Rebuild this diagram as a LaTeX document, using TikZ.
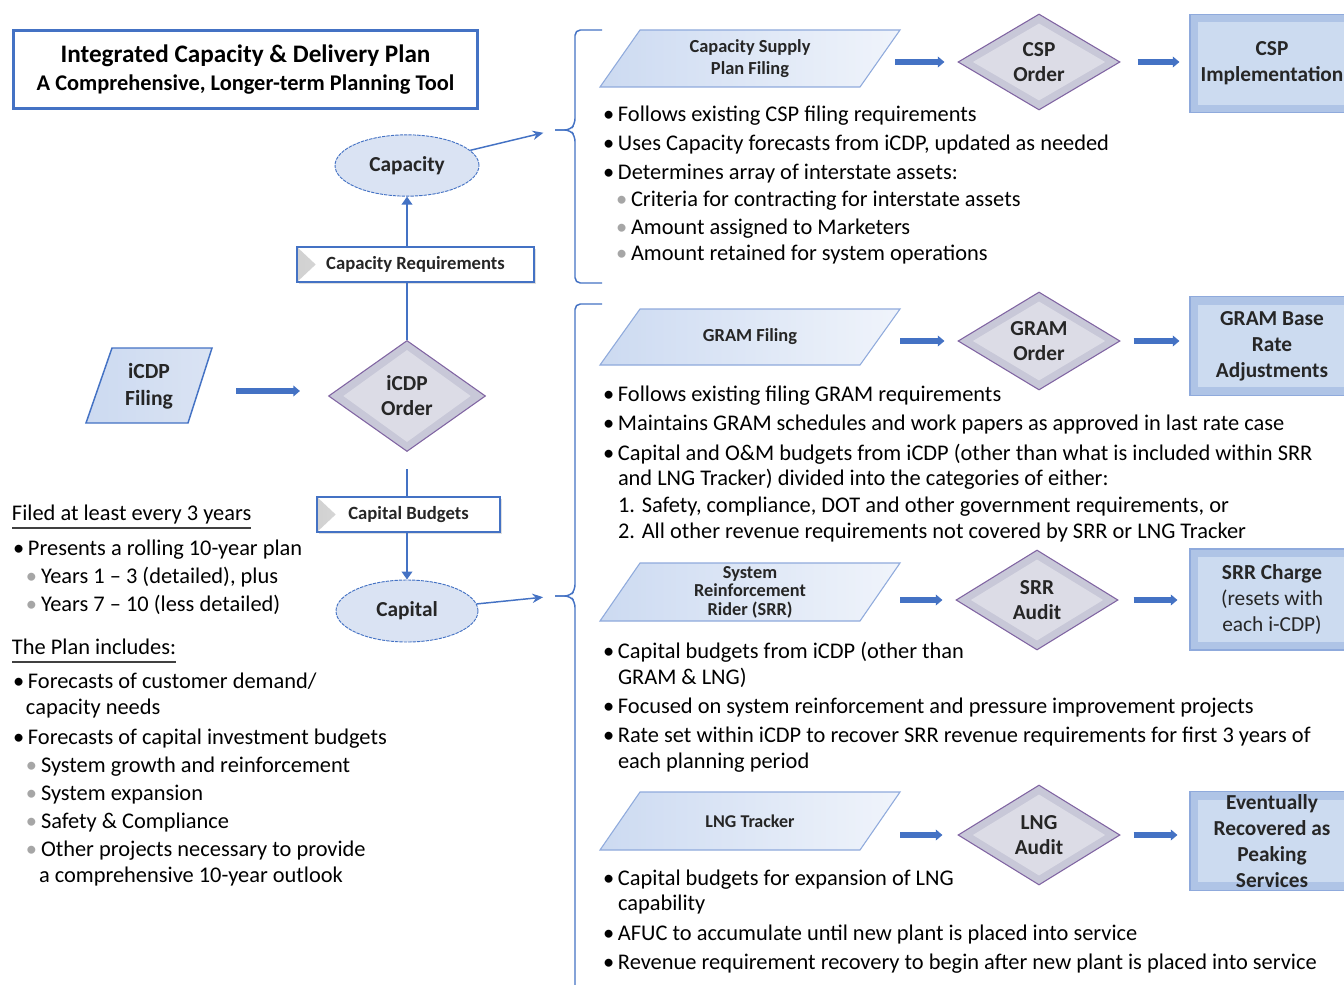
\documentclass[tikz,border=0pt]{standalone}
\usepackage{fontspec}
\setmainfont{Carlito}
\usetikzlibrary{shapes.geometric,arrows.meta,calc,shadows}
\definecolor{mblue}{HTML}{4472C4}
\definecolor{lblue}{HTML}{DAE3F3}
\definecolor{pgborder}{HTML}{8FAADC}
\definecolor{pgleft}{HTML}{CCDAF1}
\definecolor{pgright}{HTML}{F0F4FB}
\definecolor{diaborder}{HTML}{8064A2}
\definecolor{diaouter}{HTML}{C8C8D8}
\definecolor{diainner}{HTML}{DCDCE6}
\definecolor{boxouter}{HTML}{AFC4E6}
\definecolor{boxinner}{HTML}{CCDBF0}
\definecolor{boxborder}{HTML}{8FAADC}
\definecolor{subgray}{HTML}{A6A6A6}
\definecolor{shapetext}{HTML}{262626}
\definecolor{ulgray}{HTML}{404040}

\newcommand\bu{\makebox[11.25pt][l]{\textbullet}}
\newcommand\sbu{\makebox[11.25pt][l]{\textcolor{subgray}{\textbullet}}}

\tikzset{
  txt/.style={inner sep=0pt, outer sep=0pt, anchor=base west, font=\fontsize{16.8pt}{20pt}\selectfont},
  titlebox/.style={draw=mblue, line width=2.3pt, fill=white, minimum width=348pt, minimum height=58.5pt, align=center, inner sep=0pt},
  ell/.style={ellipse, draw=mblue, line width=0.7pt, dash pattern=on 2.5pt off 0.8pt, fill=lblue, minimum width=108pt, minimum height=46pt, inner sep=0pt, font=\fontsize{16pt}{19pt}\selectfont\bfseries, text=shapetext},
  lbl/.style={rectangle, draw=mblue, line width=1pt, fill=white, minimum height=26.25pt, inner sep=0pt, font=\fontsize{14pt}{16pt}\selectfont\bfseries, text=shapetext, drop shadow={opacity=0.25, shadow xshift=1.2pt, shadow yshift=-1.2pt}, path picture={\shade[left color=black!18, right color=white] (path picture bounding box.south west) -- ([xshift=14pt]path picture bounding box.west) -- (path picture bounding box.north west) -- cycle;}},
  dia/.style={diamond, draw=diaborder, line width=0.8pt, fill=diaouter, inner sep=0pt, align=center, font=\fontsize{16pt}{18.75pt}\selectfont\bfseries, text=shapetext, path picture={\fill[diainner] ([yshift=-7pt]path picture bounding box.north) -- ([xshift=-11pt]path picture bounding box.east) -- ([yshift=7pt]path picture bounding box.south) -- ([xshift=11pt]path picture bounding box.west) -- cycle;}},
  box/.style={rectangle, draw=boxborder, line width=0.8pt, fill=boxouter, minimum width=123pt, minimum height=74pt, inner sep=0pt, align=center, font=\fontsize{16pt}{19.5pt}\selectfont\bfseries, text=shapetext, path picture={\fill[boxinner] ([shift={(6pt,6pt)}]path picture bounding box.south west) rectangle ([shift={(-6pt,-6pt)}]path picture bounding box.north east);}},
  pgfill/.style={left color=pgleft, right color=pgright, draw=pgborder, line width=0.8pt},
  icdpfill/.style={left color=pgleft, right color=lblue, draw=mblue, line width=1.1pt},
  pgt/.style={rectangle, inner sep=0pt, minimum width=195pt, minimum height=30pt, align=center, font=\fontsize{13.8pt}{16.5pt}\selectfont\bfseries, text=shapetext},
  bigarrow/.style={mblue, line width=4pt, -{Triangle[length=5pt,width=8pt]}},
  thin/.style={mblue, line width=1.2pt},
  thinarrow/.style={mblue, line width=1.2pt, -{Triangle[length=6pt,width=8pt]}},
  ptr/.style={mblue, line width=1.1pt, -{Stealth[length=8pt,width=7pt]}},
  bracket/.style={mblue, line width=1.1pt, rounded corners=4pt},
  uline/.style={ulgray, line width=0.9pt}
}

\newcommand\pgram[6]{%
  \path[pgfill] ({#2-150},{#3+#4}) -- ({#2-110},{#3-#4}) -- ({#2+150},{#3-#4}) -- ({#2+110},{#3+#4}) -- cycle;
  \node[pgt,#6] (#1) at (#2,#3) {#5};}

\begin{document}
\begin{tikzpicture}[x=0.75pt,y=-0.75pt]
\useasboundingbox (0,0) rectangle (1344,984);
\clip (0,0) rectangle (1344,984);
\fill[white] (0,0) rectangle (1344,984);

% ---------- title ----------
\node[titlebox] (title) at (245.5,69.5) {{\fontsize{18.9pt}{22pt}\selectfont\bfseries Integrated Capacity \& Delivery Plan}\\[4.5pt]{\fontsize{16.8pt}{20pt}\selectfont\bfseries A Comprehensive, Longer-term Planning Tool}};

% ---------- left flow ----------
\node[ell] (cap) at (407,165.5) {Capacity};
\node[lbl, minimum width=177.75pt] (capreq) at (415.5,264.5) {Capacity Requirements};
\path[icdpfill] (112,348) -- (212,348) -- (188,423) -- (86,423) -- cycle;
\node[pgt, minimum width=76.5pt, font=\fontsize{16.2pt}{20pt}\selectfont\bfseries] (icdpf) at (149,386) {iCDP\\Filing};
\node[dia, minimum width=117.75pt, minimum height=83.25pt] (icdpo) at (407,396) {iCDP\\Order};
\node[lbl, minimum width=137.25pt] (capbud) at (408.5,514.5) {Capital Budgets};
\node[ell, minimum width=106.5pt, minimum height=46.5pt] (capital) at (407,611) {Capital};

\draw[thinarrow] (capreq.north -| cap.south) -- (cap.south);
\draw[thin] (icdpo.north) -- (icdpo.north |- capreq.south);
\draw[thin, shorten <=12.75pt] (icdpo.south) -- (icdpo.south |- capbud.north);
\draw[thinarrow] (capbud.south -| capital.north) -- (capital.north);
\draw[bigarrow, shorten <=27pt, shorten >=21pt] ($(icdpf.east)+(0,5)$) -- ($(icdpf.east -| icdpo.west)+(0,5)$);

% ---------- brackets ----------
\coordinate (br1) at (555,130);
\coordinate (br2) at (555,596);
\draw[bracket] (602,30) -- (575,30) -- (575,124) -- (570,130) -- (br1);
\draw[bracket] (602,283) -- (575,283) -- (575,136) -- (570,130) -- (br1);
\draw[bracket] (602,304) -- (575,304) -- (575,590) -- (570,596) -- (br2);
\draw[bracket] (575,1000) -- (575,602) -- (570,596) -- (br2);
\draw[ptr, shorten >=9pt] (cap) -- (br1);
\draw[ptr, shorten >=9pt] (capital) -- (br2);

% ---------- CSP row ----------
\pgram{csf}{750}{58.5}{28.5}{Capacity Supply\\Plan Filing}{}
\node[dia, minimum width=121.5pt, minimum height=72pt] (csd) at (1039,62) {CSP\\Order};
\node[box] (csb) at (1272,63.5) {CSP\\Implementation};
\draw[bigarrow, shorten <=11.25pt, shorten >=9.75pt] (csf.east |- csd.west) -- (csd.west);
\draw[bigarrow, shorten <=12.75pt, shorten >=7.5pt] (csd.east) -- (csd.east -| csb.west);

% ---------- GRAM row ----------
\pgram{grf}{750}{337}{28}{GRAM Filing}{}
\node[dia, minimum width=121.5pt, minimum height=73.5pt] (grd) at (1039,341) {GRAM\\Order};
\node[box] (grb) at (1272,346) {GRAM Base\\Rate\\Adjustments};
\draw[bigarrow, shorten <=15pt, shorten >=9.75pt] (grf.east |- grd.west) -- (grd.west);
\draw[bigarrow, shorten <=9.75pt, shorten >=7.5pt] (grd.east) -- (grd.east -| grb.west);

% ---------- SRR row ----------
\pgram{srf}{750}{592}{29}{System\\Reinforcement\\Rider (SRR)}{font=\fontsize{13.7pt}{13.9pt}\selectfont\bfseries}
\node[dia, minimum width=121.5pt, minimum height=75pt] (srd) at (1037,600) {SRR\\Audit};
\node[box, minimum height=75.75pt] (srb) at (1272,599.5) {SRR Charge\\\mdseries(resets with\\\mdseries each i-CDP)};
\draw[bigarrow, shorten <=15pt, shorten >=9.75pt] (srf.east |- srd.west) -- (srd.west);
\draw[bigarrow, shorten <=11.25pt, shorten >=9pt] (srd.east) -- (srd.east -| srb.west);

% ---------- LNG row ----------
\pgram{lnf}{750}{821}{29}{LNG Tracker}{font=\fontsize{13.5pt}{16pt}\selectfont\bfseries}
\node[dia, minimum width=121.5pt, minimum height=75pt] (lnd) at (1039,835) {LNG\\Audit};
\node[box] (lnb) at (1272,841) {Eventually\\Recovered as\\Peaking\\Services};
\draw[bigarrow, shorten <=15pt, shorten >=11.25pt] (lnf.east |- lnd.west) -- (lnd.west);
\draw[bigarrow, shorten <=9.75pt, shorten >=9pt] (lnd.east) -- (lnd.east -| lnb.west);

% ---------- right texts ----------
\node[txt] (r1) at (603,122) {\bu Follows existing CSP filing requirements};
\node[txt] (r2) at (603,151) {\bu Uses Capacity forecasts from iCDP, updated as needed};
\node[txt] (r3) at (603,180) {\bu Determines array of interstate assets:};
\node[txt] (r4) at (616,207) {\sbu Criteria for contracting for interstate assets};
\node[txt] (r5) at (616,234) {\sbu Amount assigned to Marketers};
\node[txt] (r6) at (616,260) {\sbu Amount retained for system operations};

\node[txt] (g1) at (603,401) {\bu Follows existing filing GRAM requirements};
\node[txt] (g2) at (603,430) {\bu Maintains GRAM schedules and work papers as approved in last rate case};
\node[txt] (g3) at (603,460) {\bu Capital and O\&M budgets from iCDP (other than what is included within SRR};
\node[txt] (g4) at (618,485) {and LNG Tracker) divided into the categories of either:};
\node[txt] (g5) at (618,512) {1. Safety, compliance, DOT and other government requirements, or};
\node[txt] (g6) at (618,538) {2. All other revenue requirements not covered by SRR or LNG Tracker};

\node[txt] (s1) at (603,658) {\bu Capital budgets from iCDP (other than};
\node[txt] (s2) at (618,684) {GRAM \& LNG)};
\node[txt] (s3) at (603,713) {\bu Focused on system reinforcement and pressure improvement projects};
\node[txt] (s4) at (603,742) {\bu Rate set within iCDP to recover SRR revenue requirements for first 3 years of};
\node[txt] (s5) at (618,768) {each planning period};

\node[txt] (l1) at (603,885) {\bu Capital budgets for expansion of LNG};
\node[txt] (l2) at (618,910) {capability};
\node[txt] (l3) at (603,940) {\bu AFUC to accumulate until new plant is placed into service};
\node[txt] (l4) at (603,969) {\bu Revenue requirement recovery to begin after new plant is placed into service};

% ---------- left texts ----------
\node[txt] (f1) at (12,520) {Filed at least every 3 years};
\draw[uline] ([yshift=-6pt]f1.base west) -- ([yshift=-6pt]f1.base east);
\node[txt] (f2) at (13,555) {\bu Presents a rolling 10-year plan};
\node[txt] (f3) at (26,583) {\sbu Years 1 – 3 (detailed), plus};
\node[txt] (f4) at (26,611) {\sbu Years 7 – 10 (less detailed)};
\node[txt] (f5) at (12,654) {The Plan includes:};
\draw[uline] ([yshift=-6pt]f5.base west) -- ([yshift=-6pt]f5.base east);
\node[txt] (f6) at (13,688) {\bu Forecasts of customer demand/};
\node[txt] (f7) at (26,714) {capacity needs};
\node[txt] (f8) at (13,744) {\bu Forecasts of capital investment budgets};
\node[txt] (f9) at (26,772) {\sbu System growth and reinforcement};
\node[txt] (f10) at (26,800) {\sbu System expansion};
\node[txt] (f11) at (26,828) {\sbu Safety \& Compliance};
\node[txt] (f12) at (26,856) {\sbu Other projects necessary to provide};
\node[txt] (f13) at (39,882) {a comprehensive 10-year outlook};
\end{tikzpicture}
\end{document}
